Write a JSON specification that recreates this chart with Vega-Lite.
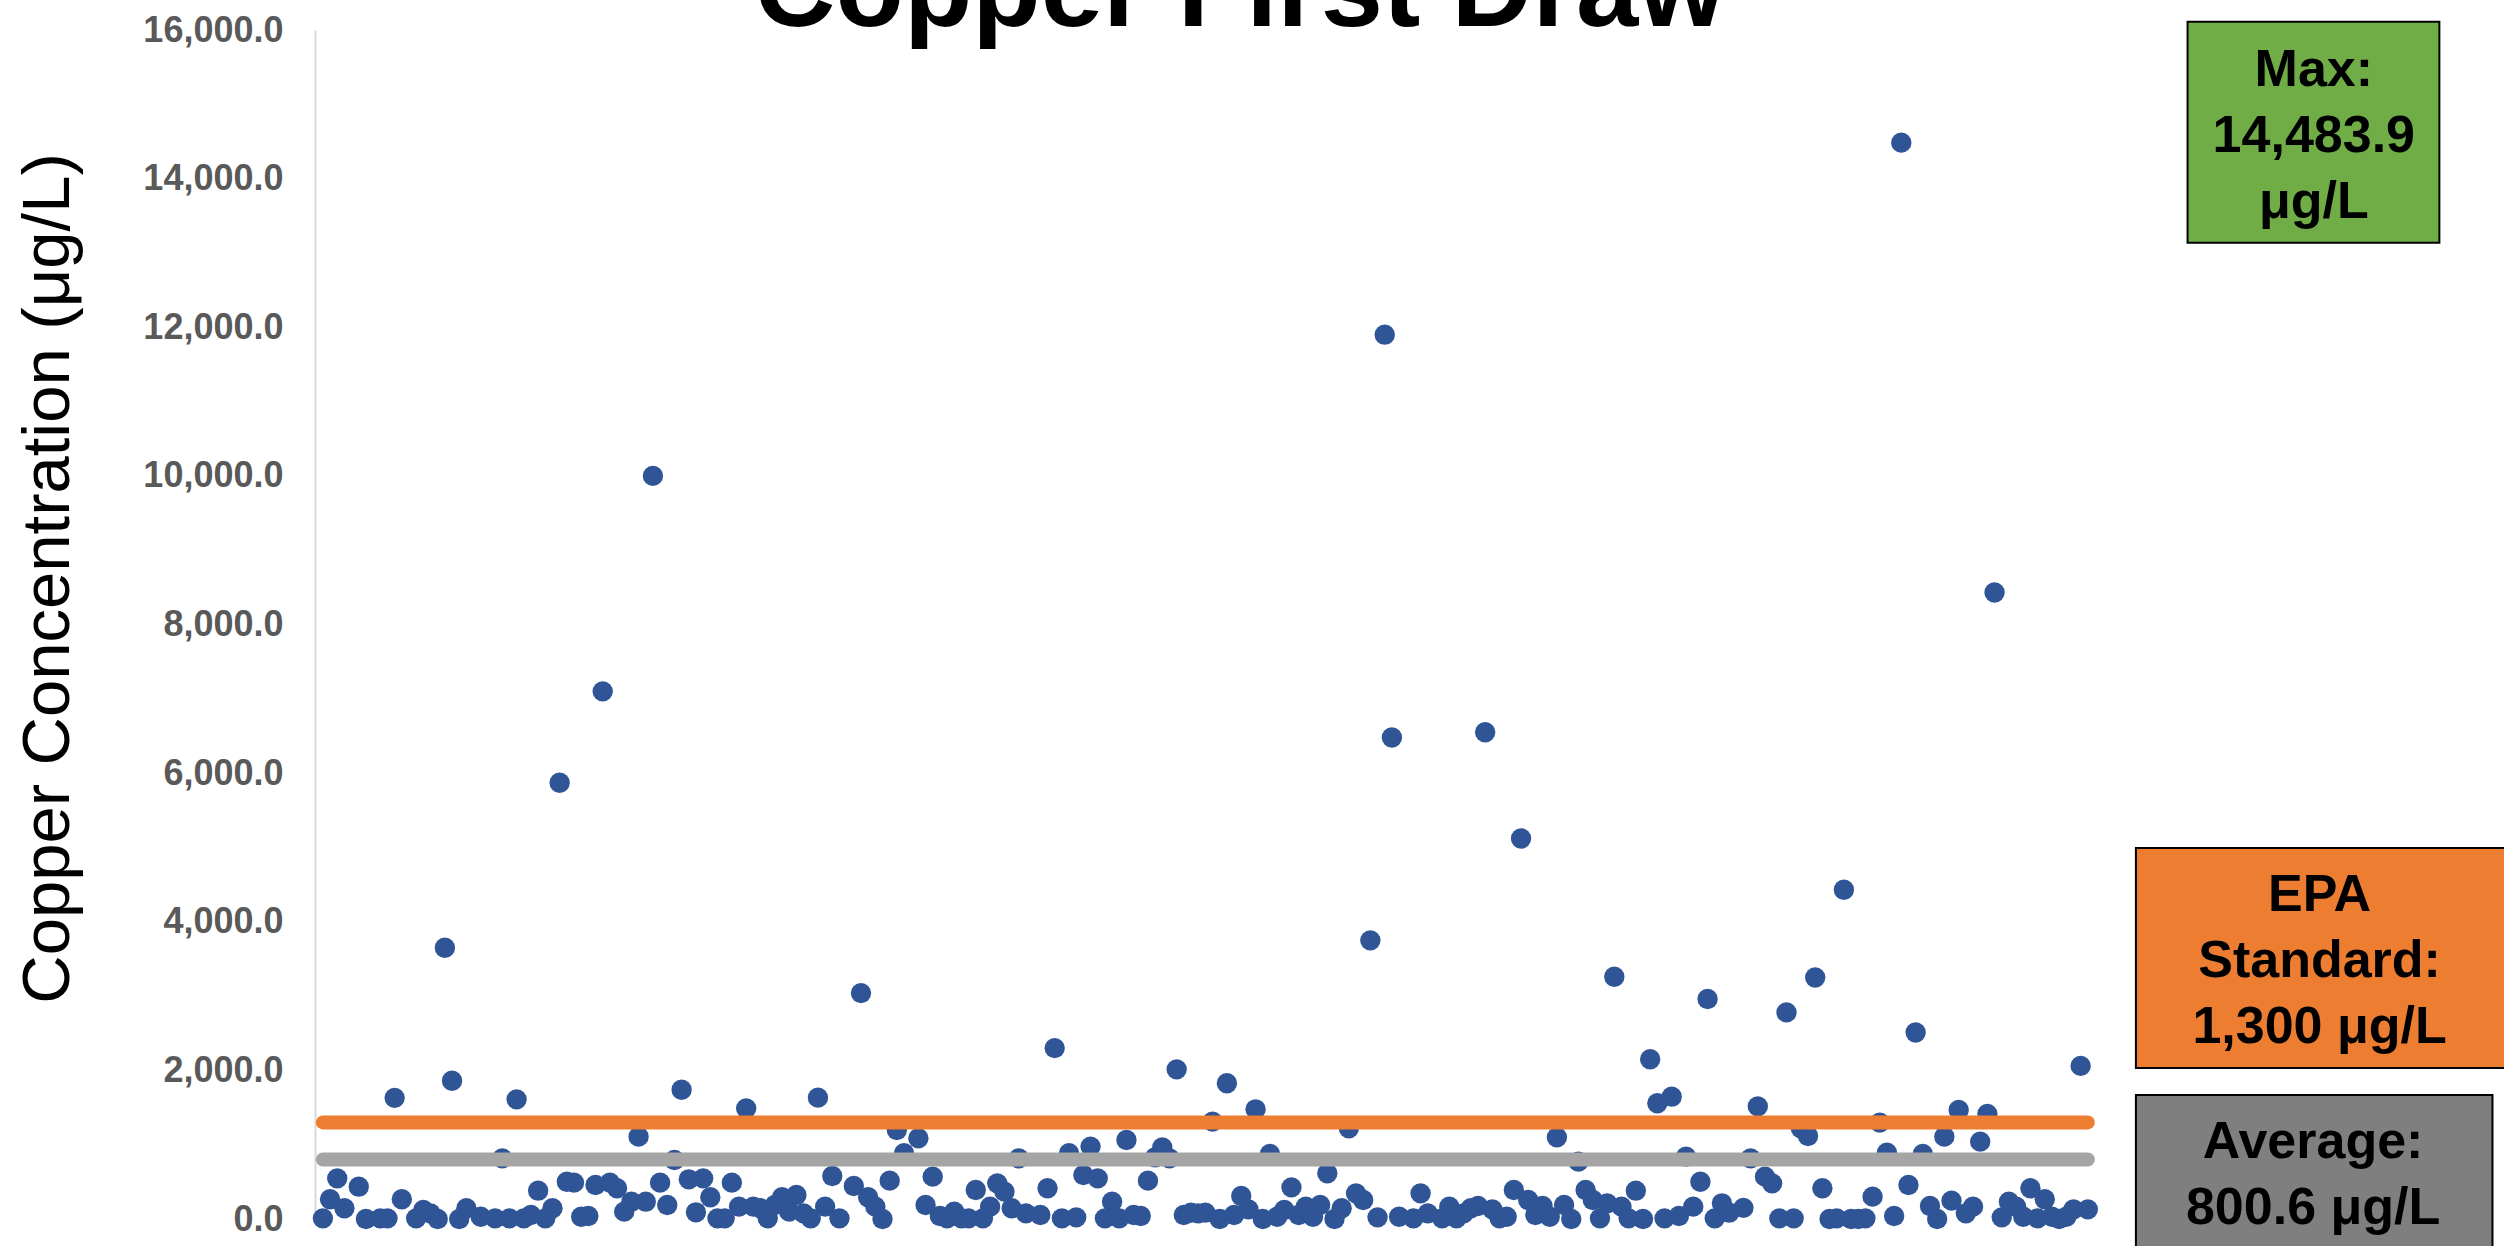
{
  "$schema": "https://vega.github.io/schema/vega-lite/v6.json",
  "width": 1780,
  "height": 1189,
  "autosize": {"type": "none"},
  "padding": {"left": 315, "top": 30, "right": 409, "bottom": 27},
  "background": "white",
  "config": {"view": {"stroke": null}},
  "title": {"text": "Copper First Draw", "fontSize": 112, "font": "Liberation Sans", "fontWeight": "bold", "color": "#000000", "anchor": "middle", "dx": 35, "dy": 130, "baseline": "alphabetic", "offset": 4},
  "datasets": {
    "samples": [
      {"sample":1,"copper":9},{"sample":2,"copper":265},{"sample":3,"copper":547},{"sample":4,"copper":144},{"sample":6,"copper":435},{"sample":7,"copper":0},{"sample":9,"copper":9},{"sample":10,"copper":9},{"sample":11,"copper":1630},{"sample":12,"copper":265},{"sample":14,"copper":9},{"sample":15,"copper":121},{"sample":16,"copper":76},{"sample":17,"copper":0},{"sample":18,"copper":3650},{"sample":19,"copper":1860},{"sample":20,"copper":0},{"sample":21,"copper":144},{"sample":23,"copper":31},{"sample":25,"copper":9},{"sample":26,"copper":816},{"sample":27,"copper":9},{"sample":28,"copper":1610},{"sample":29,"copper":9},{"sample":30,"copper":54},{"sample":31,"copper":381},{"sample":32,"copper":9},{"sample":33,"copper":144},{"sample":34,"copper":5870},{"sample":35,"copper":502},{"sample":36,"copper":489},{"sample":37,"copper":31},{"sample":38,"copper":40},{"sample":39,"copper":458},{"sample":40,"copper":7100},{"sample":41,"copper":489},{"sample":42,"copper":413},{"sample":43,"copper":99},{"sample":44,"copper":233},{"sample":45,"copper":1108},{"sample":46,"copper":233},{"sample":47,"copper":10000},{"sample":48,"copper":489},{"sample":49,"copper":188},{"sample":50,"copper":794},{"sample":51,"copper":1740},{"sample":52,"copper":534},{"sample":53,"copper":90},{"sample":54,"copper":547},{"sample":55,"copper":292},{"sample":56,"copper":9},{"sample":57,"copper":9},{"sample":58,"copper":489},{"sample":59,"copper":166},{"sample":60,"copper":1489},{"sample":61,"copper":166},{"sample":62,"copper":144},{"sample":63,"copper":9},{"sample":64,"copper":188},{"sample":65,"copper":292},{"sample":66,"copper":99},{"sample":67,"copper":323},{"sample":68,"copper":76},{"sample":69,"copper":9},{"sample":70,"copper":1633},{"sample":71,"copper":166},{"sample":72,"copper":579},{"sample":73,"copper":9},{"sample":75,"copper":444},{"sample":76,"copper":3040},{"sample":77,"copper":292},{"sample":78,"copper":166},{"sample":79,"copper":0},{"sample":80,"copper":516},{"sample":81,"copper":1198},{"sample":82,"copper":884},{"sample":84,"copper":1086},{"sample":85,"copper":188},{"sample":86,"copper":570},{"sample":87,"copper":40},{"sample":88,"copper":9},{"sample":89,"copper":99},{"sample":90,"copper":9},{"sample":91,"copper":9},{"sample":92,"copper":390},{"sample":93,"copper":9},{"sample":94,"copper":166},{"sample":95,"copper":480},{"sample":96,"copper":368},{"sample":97,"copper":144},{"sample":98,"copper":816},{"sample":99,"copper":76},{"sample":101,"copper":54},{"sample":102,"copper":413},{"sample":103,"copper":2300},{"sample":104,"copper":9},{"sample":105,"copper":884},{"sample":106,"copper":22},{"sample":107,"copper":592},{"sample":108,"copper":974},{"sample":109,"copper":547},{"sample":110,"copper":9},{"sample":111,"copper":233},{"sample":112,"copper":9},{"sample":113,"copper":1063},{"sample":114,"copper":54},{"sample":115,"copper":40},{"sample":116,"copper":516},{"sample":117,"copper":830},{"sample":118,"copper":964},{"sample":119,"copper":816},{"sample":120,"copper":2014},{"sample":121,"copper":54},{"sample":122,"copper":85},{"sample":123,"copper":76},{"sample":124,"copper":85},{"sample":125,"copper":1310},{"sample":126,"copper":0},{"sample":127,"copper":1826},{"sample":128,"copper":54},{"sample":129,"copper":310},{"sample":130,"copper":130},{"sample":131,"copper":1476},{"sample":132,"copper":0},{"sample":133,"copper":875},{"sample":134,"copper":31},{"sample":135,"copper":121},{"sample":136,"copper":426},{"sample":137,"copper":54},{"sample":138,"copper":166},{"sample":139,"copper":31},{"sample":140,"copper":188},{"sample":141,"copper":615},{"sample":142,"copper":0},{"sample":143,"copper":144},{"sample":144,"copper":1220},{"sample":145,"copper":345},{"sample":146,"copper":256},{"sample":147,"copper":3750},{"sample":148,"copper":22},{"sample":149,"copper":11900},{"sample":150,"copper":6480},{"sample":151,"copper":31},{"sample":153,"copper":9},{"sample":154,"copper":345},{"sample":155,"copper":76},{"sample":157,"copper":9},{"sample":158,"copper":166},{"sample":159,"copper":9},{"sample":160,"copper":76},{"sample":161,"copper":144},{"sample":162,"copper":175},{"sample":163,"copper":6550},{"sample":164,"copper":130},{"sample":165,"copper":9},{"sample":166,"copper":31},{"sample":167,"copper":390},{"sample":168,"copper":5120},{"sample":169,"copper":256},{"sample":170,"copper":54},{"sample":171,"copper":175},{"sample":172,"copper":31},{"sample":173,"copper":1099},{"sample":174,"copper":188},{"sample":175,"copper":0},{"sample":176,"copper":772},{"sample":177,"copper":390},{"sample":178,"copper":256},{"sample":179,"copper":9},{"sample":180,"copper":211},{"sample":181,"copper":3260},{"sample":182,"copper":166},{"sample":183,"copper":9},{"sample":184,"copper":381},{"sample":185,"copper":0},{"sample":186,"copper":2150},{"sample":187,"copper":1557},{"sample":188,"copper":9},{"sample":189,"copper":1646},{"sample":190,"copper":40},{"sample":191,"copper":839},{"sample":192,"copper":166},{"sample":193,"copper":502},{"sample":194,"copper":2960},{"sample":195,"copper":9},{"sample":196,"copper":211},{"sample":197,"copper":85},{"sample":199,"copper":150},{"sample":200,"copper":816},{"sample":201,"copper":1515},{"sample":202,"copper":570},{"sample":203,"copper":480},{"sample":204,"copper":9},{"sample":205,"copper":2780},{"sample":206,"copper":9},{"sample":207,"copper":1220},{"sample":208,"copper":1117},{"sample":209,"copper":3250},{"sample":210,"copper":413},{"sample":211,"copper":0},{"sample":212,"copper":9},{"sample":213,"copper":4430},{"sample":214,"copper":0},{"sample":215,"copper":0},{"sample":216,"copper":9},{"sample":217,"copper":301},{"sample":218,"copper":1297},{"sample":219,"copper":893},{"sample":220,"copper":40},{"sample":221,"copper":14483.9},{"sample":222,"copper":458},{"sample":223,"copper":2510},{"sample":224,"copper":875},{"sample":225,"copper":175},{"sample":226,"copper":0},{"sample":227,"copper":1108},{"sample":228,"copper":247},{"sample":229,"copper":1467},{"sample":230,"copper":76},{"sample":231,"copper":166},{"sample":232,"copper":1041},{"sample":233,"copper":1413},{"sample":234,"copper":8430},{"sample":235,"copper":22},{"sample":236,"copper":233},{"sample":237,"copper":166},{"sample":238,"copper":31},{"sample":239,"copper":413},{"sample":240,"copper":9},{"sample":241,"copper":265},{"sample":242,"copper":31},{"sample":243,"copper":0},{"sample":244,"copper":31},{"sample":245,"copper":130},{"sample":246,"copper":2060},{"sample":247,"copper":130}
    ],
    "refs": [
      {"series": "Average", "value": 800.6, "start": 1, "end": 247},
      {"series": "EPA Standard", "value": 1300, "start": 1, "end": 247}
    ],
    "notes": [
      {"note": "Max", "label": "Max:|14,483.9|μg/L", "x0": 260.9, "x1": 296.0, "y0": 16110, "y1": 13136, "xc": 278.5, "ytext": 15464},
      {"note": "EPA", "label": "EPA|Standard:|1,300 μg/L", "x0": 253.7, "x1": 312, "y0": 4993, "y1": 2032, "xc": 279.3, "ytext": 4361},
      {"note": "Average", "label": "Average:|800.6 μg/L", "x0": 253.7, "x1": 303.4, "y0": 1669, "y1": -700, "xc": 278.4, "ytext": 1036}
    ]
  },
  "layer": [
    {
      "data": {"name": "samples"},
      "mark": {"type": "circle", "size": 415, "color": "#2F5597", "opacity": 1},
      "encoding": {
        "x": {"field": "sample", "type": "quantitative", "scale": {"domain": [-0.1, 248], "nice": false, "zero": false}, "axis": null},
        "y": {"field": "copper", "type": "quantitative", "scale": {"domain": [0, 16000], "nice": false},
          "axis": {"title": "Copper Concentration (μg/L)", "values": [0,2000,4000,6000,8000,10000,12000,14000,16000], "format": ",.1f",
            "labelFont": "Liberation Sans", "labelFontSize": 36, "labelFontWeight": "bold", "labelColor": "#595959",
            "tickSize": 0, "ticks": false, "labelPadding": 32, "grid": false, "domainColor": "#D9D9D9", "domainWidth": 2,
            "labelOverlap": false, "labelBound": false, "labelFlush": false,
            "titleFont": "Liberation Sans", "titleFontSize": 67, "titleFontWeight": "normal", "titleColor": "#000000", "titlePadding": 60, "titleY": 548}}
      }
    },
    {
      "data": {"name": "refs"},
      "mark": {"type": "rule", "strokeWidth": 14, "strokeCap": "round"},
      "encoding": {
        "x": {"field": "start", "type": "quantitative"},
        "x2": {"field": "end"},
        "y": {"field": "value", "type": "quantitative"},
        "color": {"field": "series", "type": "nominal", "scale": {"domain": ["EPA Standard", "Average"], "range": ["#ED7D31", "#A5A5A5"]}, "legend": null}
      }
    },
    {
      "data": {"name": "notes"},
      "mark": {"type": "rect", "stroke": "#000000", "strokeWidth": 2},
      "encoding": {
        "x": {"field": "x0", "type": "quantitative"},
        "x2": {"field": "x1"},
        "y": {"field": "y0", "type": "quantitative"},
        "y2": {"field": "y1"},
        "fill": {"field": "note", "type": "nominal", "scale": {"domain": ["Max", "EPA", "Average"], "range": ["#70AD47", "#ED7D31", "#7F7F7F"]}, "legend": null}
      }
    },
    {
      "data": {"name": "notes"},
      "mark": {"type": "text", "font": "Liberation Sans", "fontSize": 52, "fontWeight": "bold", "color": "#000000", "lineHeight": 66, "lineBreak": "|", "baseline": "middle", "align": "center"},
      "encoding": {
        "x": {"field": "xc", "type": "quantitative"},
        "y": {"field": "ytext", "type": "quantitative"},
        "text": {"field": "label", "type": "nominal"}
      }
    }
  ]
}
